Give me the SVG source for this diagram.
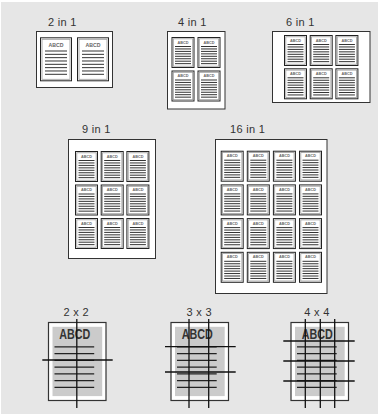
<svg xmlns="http://www.w3.org/2000/svg" xmlns:xlink="http://www.w3.org/1999/xlink" width="378" height="414" viewBox="0 0 378 414">
<style>
.lbl{font-family:"Liberation Sans",Arial,sans-serif;font-size:11px;fill:#333;letter-spacing:0.3px}
.sheet{fill:#fff;stroke:#333;stroke-width:1}
.po{fill:#fff;stroke:#222;stroke-width:1}
.pi{fill:none;stroke:#9a9a9a;stroke-width:0.8}
.pt{font-family:"Liberation Sans",Arial,sans-serif;font-weight:bold;fill:#666;text-anchor:middle}
.pl{stroke:#333;stroke-width:1;fill:none}
.big{fill:#fff;stroke:#333;stroke-width:1.2}
.gray{fill:#cbcbcb}
.bt{font-family:"Liberation Sans",Arial,sans-serif;font-weight:bold;font-size:14px;fill:#333}
.bl{stroke:#222;stroke-width:1.2;fill:none}
.cut{stroke:#111;stroke-width:1.3;fill:none}
</style>
<defs>
<g id="pg">
<rect class="po" x="0.5" y="0.5" width="22" height="30"/>
<rect class="pi" x="1.8" y="1.8" width="19.4" height="27.4"/>
<text class="pt" x="11.5" y="6.6" font-size="4" textLength="11" lengthAdjust="spacingAndGlyphs">ABCD</text>
<path class="pl" d="M3.5 9.5h16M3.5 11.95h16M3.5 14.4h16M3.5 16.85h16M3.5 19.3h16M3.5 21.75h16M3.5 24.2h16M3.5 26.65h16"/>
</g>
<g id="pgL">
<rect class="po" x="0.5" y="0.5" width="31" height="43"/>
<rect class="pi" x="2" y="2" width="28" height="40"/>
<text class="pt" x="16" y="10" font-size="6" textLength="15" lengthAdjust="spacingAndGlyphs">ABCD</text>
<path class="pl" d="M5 13.7h22M5 17.03h22M5 20.36h22M5 23.69h22M5 27.02h22M5 30.35h22M5 33.68h22M5 37.01h22"/>
</g>
<g id="cutpage">
<rect class="big" x="0" y="0" width="57.5" height="78"/>
<rect class="gray" x="4" y="4.3" width="49.7" height="69.3"/>
<text class="bt" x="10.7" y="16.7" textLength="31" lengthAdjust="spacingAndGlyphs">ABCD</text>
<path class="bl" d="M6 24.4h39.7M6 31.15h39.7M6 37.9h39.7M6 44.65h39.7M6 51.4h39.7M6 58.15h39.7M6 64.9h39.7"/>
</g>
</defs>
<rect x="0" y="0" width="378" height="414" fill="#fff"/>
<rect x="1" y="2" width="377" height="412" fill="#e6e6e6"/>

<g id="n2in1">
<text class="lbl" x="48" y="26">2 in 1</text>
<rect class="sheet" x="36.5" y="31.5" width="76" height="56"/>
<use xlink:href="#pgL" x="40" y="37.3"/>
<use xlink:href="#pgL" x="77" y="37.3"/>
</g>

<g id="n4in1">
<text class="lbl" x="178" y="26">4 in 1</text>
<rect class="sheet" x="167.5" y="31.5" width="57.5" height="77.5"/>
<use xlink:href="#pg" x="171.5" y="37"/>
<use xlink:href="#pg" x="197.5" y="37"/>
<use xlink:href="#pg" x="171.5" y="70.5"/>
<use xlink:href="#pg" x="197.5" y="70.5"/>
</g>

<g id="n6in1">
<text class="lbl" x="286" y="26">6 in 1</text>
<rect class="sheet" x="272.5" y="31.5" width="97.5" height="71"/>
<use xlink:href="#pg" x="284" y="35"/>
<use xlink:href="#pg" x="309.7" y="35"/>
<use xlink:href="#pg" x="335.4" y="35"/>
<use xlink:href="#pg" x="284" y="68.3"/>
<use xlink:href="#pg" x="309.7" y="68.3"/>
<use xlink:href="#pg" x="335.4" y="68.3"/>
</g>

<g id="n9in1">
<text class="lbl" x="82" y="133">9 in 1</text>
<rect class="sheet" x="68.5" y="139.5" width="87" height="119"/>
<use xlink:href="#pg" x="75" y="151"/>
<use xlink:href="#pg" x="100.7" y="151"/>
<use xlink:href="#pg" x="126.4" y="151"/>
<use xlink:href="#pg" x="75" y="184.5"/>
<use xlink:href="#pg" x="100.7" y="184.5"/>
<use xlink:href="#pg" x="126.4" y="184.5"/>
<use xlink:href="#pg" x="75" y="218"/>
<use xlink:href="#pg" x="100.7" y="218"/>
<use xlink:href="#pg" x="126.4" y="218"/>
</g>

<g id="n16in1">
<text class="lbl" x="230" y="133">16 in 1</text>
<rect class="sheet" x="215.5" y="139.5" width="111.5" height="154"/>
<use xlink:href="#pg" x="220.7" y="150.7"/>
<use xlink:href="#pg" x="246.8" y="150.7"/>
<use xlink:href="#pg" x="272.9" y="150.7"/>
<use xlink:href="#pg" x="299" y="150.7"/>
<use xlink:href="#pg" x="220.7" y="184.4"/>
<use xlink:href="#pg" x="246.8" y="184.4"/>
<use xlink:href="#pg" x="272.9" y="184.4"/>
<use xlink:href="#pg" x="299" y="184.4"/>
<use xlink:href="#pg" x="220.7" y="218.1"/>
<use xlink:href="#pg" x="246.8" y="218.1"/>
<use xlink:href="#pg" x="272.9" y="218.1"/>
<use xlink:href="#pg" x="299" y="218.1"/>
<use xlink:href="#pg" x="220.7" y="251.8"/>
<use xlink:href="#pg" x="246.8" y="251.8"/>
<use xlink:href="#pg" x="272.9" y="251.8"/>
<use xlink:href="#pg" x="299" y="251.8"/>
</g>

<g id="n2x2">
<text class="lbl" x="63.5" y="316">2 x 2</text>
<use xlink:href="#cutpage" x="48.5" y="322.5"/>
<path class="cut" d="M76.8 319V408M42.3 360H112.7"/>
</g>

<g id="n3x3">
<text class="lbl" x="186.5" y="316">3 x 3</text>
<use xlink:href="#cutpage" x="171" y="322.5"/>
<path class="cut" d="M189 319V408M208.7 319V408M165 346.7H235.7M165 372H235.7"/>
</g>

<g id="n4x4">
<text class="lbl" x="304.3" y="316">4 x 4</text>
<use xlink:href="#cutpage" x="291" y="322.5"/>
<path class="cut" d="M305.3 319V408M320.3 319V408M334.7 319V408M283.3 341H354.7M283.3 361H354.7M283.3 381H354.7"/>
</g>
</svg>
